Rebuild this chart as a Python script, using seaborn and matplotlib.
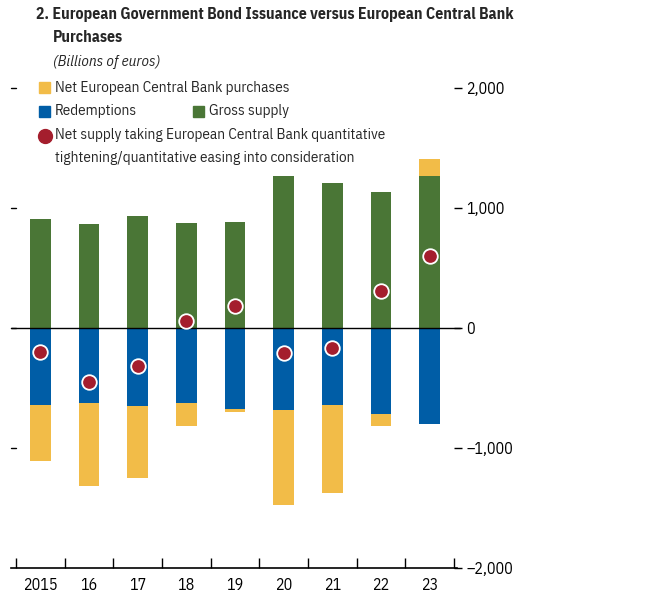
import numpy as np
import pandas as pd
import matplotlib
matplotlib.use("Agg")
import matplotlib.pyplot as plt
import seaborn as sns
from matplotlib.ticker import FixedLocator
from matplotlib.lines import Line2D

years = ["2015", "16", "17", "18", "19", "20", "21", "22", "23"]
gross_supply = [906, 864, 931, 872, 881, 1264, 1206, 1131, 1264]
redemptions = [-644, -627, -652, -627, -677, -686, -644, -719, -802]
ecb_purchases = [-467, -690, -601, -192, -25, -792, -734, -100, 139]
net_supply = [-205, -455, -320, 53, 177, -214, -170, 310, 601]
ytick_values = [-2000, -1000, 0, 1000, 2000]
ytick_labels = ["\u20132,000", "\u20131,000", "0", "1,000", "2,000"]

sns.set_theme(style="white")
plt.rcParams["font.family"] = ["IBM Plex Sans Condensed", "DejaVu Sans"]

YELLOW = "#F2BC48"
BLUE = "#005DA6"
GREEN = "#4A7636"
RED = "#A41E2D"
FS = 11
TICK_FS = 11.5

df = pd.DataFrame({"year": years, "gross": gross_supply, "red": redemptions,
                   "ecb": ecb_purchases, "net": net_supply})
ecb_arr = np.array(ecb_purchases, dtype=float)
ecb_bottom = np.where(ecb_arr < 0, np.array(redemptions, float), np.array(gross_supply, float))

fig = plt.figure(figsize=(6.64, 6.0), dpi=100)
ax = fig.add_axes([11 / 664, 1 - 567.7 / 600, (454 - 11) / 664, 480 / 600])

bw = 0.43
sns.barplot(data=df, x="year", y="gross", color=GREEN, width=bw, saturation=1,
            ax=ax, linewidth=0, order=years)
sns.barplot(data=df, x="year", y="red", color=BLUE, width=bw, saturation=1,
            ax=ax, linewidth=0, order=years)
sns.barplot(data=df, x="year", y="ecb", color=YELLOW, width=bw, saturation=1,
            ax=ax, linewidth=0, order=years, bottom=ecb_bottom)
sns.scatterplot(data=df, x="year", y="net", color=RED, s=110, edgecolor="white",
                linewidth=1.3, ax=ax, zorder=5)

ax.axhline(0, color="black", lw=1.0, zorder=4, xmin=0, xmax=1.013, clip_on=False)

ax.set_xlim(-0.603, 8.5)
ax.set_ylim(-2000, 2000)
ax.set_xlabel("")
ax.set_ylabel("")

for s in ["top", "left", "right"]:
    ax.spines[s].set_visible(False)
ax.spines["bottom"].set_color("black")
ax.spines["bottom"].set_linewidth(1.2)
ax.spines["bottom"].set_bounds(-0.603, 8.56)

ax.set_xticks(range(len(years)))
ax.set_xticklabels(years, fontsize=TICK_FS)
ax.xaxis.set_minor_locator(FixedLocator(np.arange(-0.5, 9.0, 1.0)))
ax.tick_params(axis="x", which="major", length=0, pad=7, colors="black")
ax.tick_params(axis="x", which="minor", length=7, width=1, direction="in",
               color="black", bottom=True)

ax.yaxis.tick_right()
ax.set_yticks(ytick_values)
ax.set_yticklabels(ytick_labels, fontsize=TICK_FS)
ax.tick_params(axis="y", which="major", right=True, left=False, length=6, width=1,
               direction="out", color="black", pad=3, labelcolor="black")
for yv in [2000, 1000, 0, -1000]:
    ax.plot([-0.603, -0.5], [yv, yv], color="black", lw=1, clip_on=False)

# Title and subtitle
fig.text(36 / 664, 1 - 15 / 600, "2. European Government Bond Issuance versus European Central Bank",
         fontsize=11.3, fontweight="bold", va="center", ha="left")
fig.text(53 / 664, 1 - 38 / 600, "Purchases", fontsize=11.3, fontweight="bold",
         va="center", ha="left")
fig.text(53 / 664, 1 - 62 / 600, "(Billions of euros)", fontsize=FS, fontstyle="italic",
         va="center", ha="left")

# Legend
def sq(x, y, c):
    fig.patches.append(plt.Rectangle((x / 664, 1 - (y + 5.5) / 600), 11 / 664, 11 / 600,
                                     transform=fig.transFigure, color=c, figure=fig))

sq(39, 88, YELLOW)
fig.text(55 / 664, 1 - 88 / 600, "Net European Central Bank purchases", fontsize=FS,
         va="center", ha="left")
sq(39, 111.5, BLUE)
fig.text(55 / 664, 1 - 111.5 / 600, "Redemptions", fontsize=FS, va="center", ha="left")
sq(193, 111.5, GREEN)
fig.text(209 / 664, 1 - 111.5 / 600, "Gross supply", fontsize=FS, va="center", ha="left")
fig.add_artist(Line2D([44.5 / 664], [1 - 135.5 / 600], marker="o",
                      markersize=10, color=RED, markeredgecolor=RED,
                      transform=fig.transFigure))
fig.text(55 / 664, 1 - 135.5 / 600, "Net supply taking European Central Bank quantitative",
         fontsize=FS, va="center", ha="left")
fig.text(55 / 664, 1 - 158 / 600, "tightening/quantitative easing into consideration",
         fontsize=FS, va="center", ha="left")

fig.savefig("out.png", dpi=100)
